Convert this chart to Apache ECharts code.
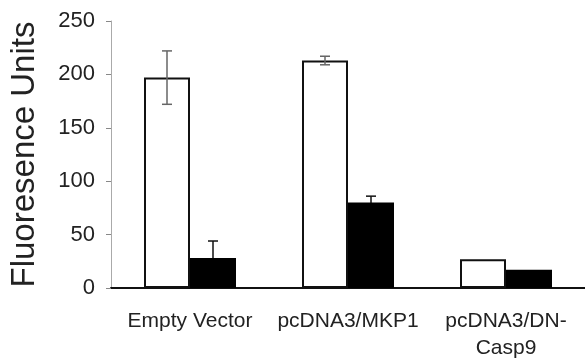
<!DOCTYPE html>
<html>
<head>
<meta charset="utf-8">
<script src="https://cdn.jsdelivr.net/npm/echarts@6/dist/echarts.min.js"></script>
<style>
  html, body { margin: 0; padding: 0; background: #fff; }
  #chart { width: 585px; height: 362px; }
</style>
</head>
<body>
<div id="chart"></div>
<script>
// values
var categories = ['Empty Vector', 'pcDNA3/MKP1', 'pcDNA3/DN-\nCasp9'];
var yTicks = [0, 50, 100, 150, 200, 250];
var whiteValues = [197, 213, 27];
var whiteErr = [25, 4, 0];
var blackValues = [28, 80, 17];
var blackErr = [16, 6, 0];

var FONT = '"Liberation Sans", Arial, sans-serif';
var BAR_W = 46;

function errorBars(values, errs, offset, color, z) {
  return {
    type: 'custom',
    z: z,
    data: values.map(function (v, i) { return [i, v, errs[i]]; }),
    renderItem: function (params, api) {
      var i = api.value(0), v = api.value(1), e = api.value(2);
      if (!e) return null;
      var top = api.coord([i, v + e]);
      var bot = api.coord([i, v - e]);
      var x = top[0] + offset;
      var cap = 5;
      var style = { stroke: color, lineWidth: 1.5 };
      return {
        type: 'group',
        children: [
          { type: 'line', shape: { x1: x, y1: top[1], x2: x, y2: bot[1] }, style: style },
          { type: 'line', shape: { x1: x - cap, y1: top[1], x2: x + cap, y2: top[1] }, style: style },
          { type: 'line', shape: { x1: x - cap, y1: bot[1], x2: x + cap, y2: bot[1] }, style: style }
        ]
      };
    }
  };
}

var chart = echarts.init(document.getElementById('chart'));
chart.setOption({
  animation: false,
  backgroundColor: '#fff',
  grid: { left: 107, top: 21, width: 489, height: 268 },
  xAxis: {
    type: 'category',
    data: categories,
    axisLine: { lineStyle: { color: '#111', width: 2 } },
    axisTick: { length: 6, lineStyle: { color: '#111', width: 1.5 } },
    axisLabel: {
      interval: 0,
      color: '#222', fontFamily: FONT, fontSize: 21, margin: 20, lineHeight: 27
    }
  },
  yAxis: {
    type: 'value',
    min: yTicks[0],
    max: yTicks[yTicks.length - 1],
    interval: 50,
    name: 'Fluoresence Units',
    nameLocation: 'middle',
    nameGap: 70,
    nameTextStyle: { color: '#222', fontFamily: FONT, fontSize: 33 },
    axisLine: { show: true, lineStyle: { color: '#aaa', width: 1 } },
    axisTick: { show: true, length: 5, lineStyle: { color: '#888' } },
    splitLine: { show: false },
    axisLabel: { color: '#222', fontFamily: FONT, fontSize: 22, margin: 16 }
  },
  series: [
    {
      type: 'bar',
      z: 3,
      data: whiteValues,
      barWidth: BAR_W,
      barGap: '0%',
      itemStyle: { color: '#fff', borderColor: '#111', borderWidth: 2 }
    },
    {
      type: 'bar',
      z: 3,
      data: blackValues,
      barWidth: BAR_W,
      barGap: '0%',
      itemStyle: { color: '#000' }
    },
    errorBars(whiteValues, whiteErr, -BAR_W / 2, '#666', 5),
    errorBars(blackValues, blackErr, BAR_W / 2, '#111', 1)
  ]
});
</script>
</body>
</html>
